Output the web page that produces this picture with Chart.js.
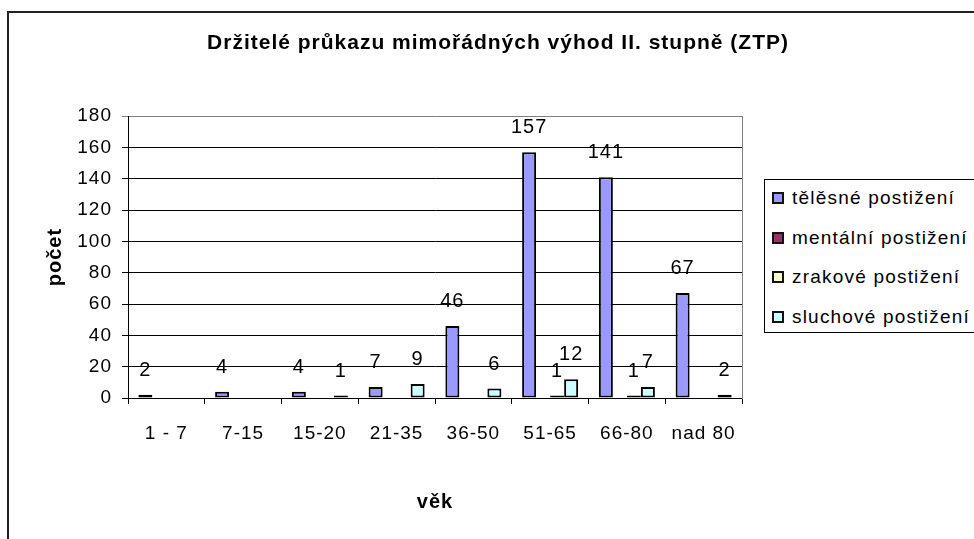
<!DOCTYPE html>
<html lang="cs">
<head>
<meta charset="utf-8">
<title>Držitelé průkazu mimořádných výhod II. stupně (ZTP)</title>
<script src="https://cdn.jsdelivr.net/npm/chart.js@4.4.0/dist/chart.umd.min.js"></script>
<style>
  body { margin: 0; background: #fff; }
  #wrap { position: relative; width: 974px; height: 539px; overflow: hidden; }
  #legend {
    position: absolute; left: 764px; top: 179px; width: 232px; height: 154px;
    border: 1px solid #000; box-sizing: border-box; background: #fff;
    font-family: "Liberation Sans", Arial, sans-serif; font-size: 19px;
    letter-spacing: 1.2px; color: #000;
  }
  .item { position: absolute; left: 0; height: 22px; line-height: 22px; white-space: nowrap; }
  .box { position: absolute; left: 7px; top: 5px; width: 12px; height: 12px; border: 2px solid #111; box-sizing: border-box; }
  .txt { position: absolute; left: 27px; top: 0; }
</style>
</head>
<body>
<div id="wrap">
  <canvas id="chart" width="974" height="539"></canvas>
  <div id="legend"></div>
</div>
<script>
// Data
const categories = ["1 - 7", "7-15", "15-20", "21-35", "36-50", "51-65", "66-80", "nad 80"];
const seriesNames = ["tělěsné postižení", "mentální postižení", "zrakové postižení", "sluchové postižení"];
const telesne = [2, 4, 4, 7, 46, 157, 141, 67];
const mentalni = [null, null, null, null, null, null, null, null];
const zrakove = [null, null, null, null, null, 1, 1, null];
const sluchove = [null, null, 1, 9, 6, 12, 7, 2];
const seriesColors = ["#9999FF", "#993366", "#FFFFCC", "#CCFFFF"];
const yMin = 0, yMax = 180, yStep = 20;

const seriesValues = [telesne, mentalni, zrakove, sluchove];

Chart.defaults.font.family = '"Liberation Sans", Arial, sans-serif';
Chart.defaults.color = "#000";

// outer frame + letter spacing like the old Excel rendering
const framePlugin = {
  id: "frame",
  beforeDraw(chart) {
    const ctx = chart.ctx;
    ctx.letterSpacing = "1px";
    ctx.save();
    ctx.fillStyle = "#fff";
    ctx.fillRect(0, 0, chart.width, chart.height);
    ctx.strokeStyle = "#222";
    ctx.lineWidth = 2;
    ctx.beginPath();
    ctx.moveTo(8, chart.height + 5);
    ctx.lineTo(8, 12);
    ctx.lineTo(chart.width + 5, 12);
    ctx.stroke();
    ctx.restore();
  }
};

// value labels above the bars
const valueLabels = {
  id: "valueLabels",
  afterDatasetsDraw(chart) {
    const ctx = chart.ctx;
    ctx.save();
    ctx.font = '20px "Liberation Sans", Arial, sans-serif';
    ctx.fillStyle = "#000";
    ctx.textAlign = "center";
    ctx.textBaseline = "alphabetic";
    chart.data.datasets.forEach((ds, i) => {
      chart.getDatasetMeta(i).data.forEach((bar, j) => {
        const v = ds.data[j];
        if (v === null || v === undefined) return;
        const base = chart.scales.y.getPixelForValue(v);
        ctx.fillText(String(v), bar.x, base - 19);
      });
    });
    ctx.restore();
  }
};

const data = {
  labels: categories,
  datasets: seriesNames.map((name, i) => ({
    label: name,
    data: seriesValues[i],
    backgroundColor: seriesColors[i],
    borderColor: "#000",
    borderWidth: 2,
    borderSkipped: false,
    inflateAmount: 0,
    minBarLength: 2.5,
    barPercentage: 1,
    categoryPercentage: 0.73
  }))
};

const options = {
  responsive: false,
  animation: false,
  layout: { padding: { left: 22, top: 0, right: 0, bottom: 0 } },
  plugins: {
    legend: { display: false },
    tooltip: { enabled: false },
    title: {
      display: true,
      text: "Držitelé průkazu mimořádných výhod II. stupně (ZTP)",
      color: "#000",
      font: { size: 21, weight: "bold" },
      padding: { top: 31, bottom: 60 }
    }
  },
  scales: {
    x: {
      grid: { drawOnChartArea: false, drawTicks: true, tickLength: 6, color: "#000", offset: true },
      border: { color: "#000", width: 1 },
      ticks: { color: "#000", font: { size: 19 }, padding: 18, maxRotation: 0, autoSkip: false },
      title: { display: true, text: "věk", color: "#000", font: { size: 20, weight: "bold" }, padding: { top: 0, bottom: 25 } },
      afterFit: (s) => { s.height = 141; }
    },
    y: {
      min: yMin,
      max: yMax,
      ticks: { stepSize: yStep, color: "#000", font: { size: 19 }, padding: 10 },
      grid: {
        color: (c) => (c.tick && c.tick.value === yMax ? "#808080" : "#000"),
        tickLength: 6
      },
      border: { color: "#000", width: 1 },
      title: { display: true, text: "počet", color: "#000", font: { size: 20, weight: "bold" }, padding: { top: 21, bottom: 0 } },
      afterFit: (s) => { s.width = 106; }
    },
    y2: {
      position: "right",
      display: true,
      grid: { display: false },
      ticks: { display: false },
      border: { color: "#808080", width: 1 },
      afterFit: (s) => { s.width = 232; }
    }
  }
};

new Chart(document.getElementById("chart"), {
  type: "bar",
  data: data,
  options: options,
  plugins: [framePlugin, valueLabels]
});

// legend
const legend = document.getElementById("legend");
const rowTops = [7, 47, 86, 126];
seriesNames.forEach((name, i) => {
  const item = document.createElement("div");
  item.className = "item";
  item.style.top = rowTops[i] + "px";
  const box = document.createElement("span");
  box.className = "box";
  box.style.background = seriesColors[i];
  const txt = document.createElement("span");
  txt.className = "txt";
  txt.textContent = name;
  item.appendChild(box);
  item.appendChild(txt);
  legend.appendChild(item);
});
</script>
</body>
</html>
